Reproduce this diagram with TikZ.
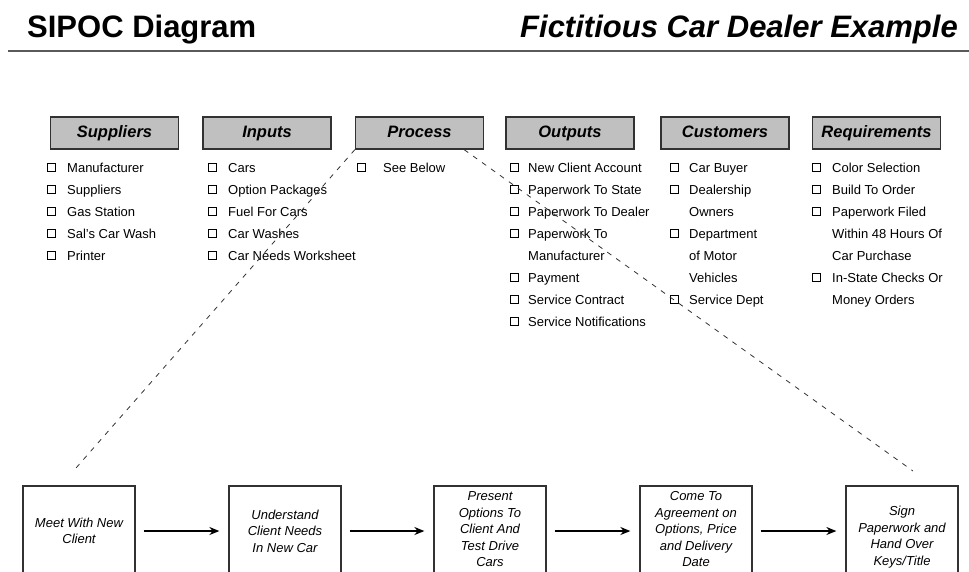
\documentclass[tikz,border=0pt]{standalone}
\usepackage{fontspec}
\setmainfont{Liberation Sans}
\usepackage{tikz}
\usetikzlibrary{
    arrows.meta,positioning
}

\begin{document}
\begin{tikzpicture}[
  x=1pt,
  y=-1pt,
  >={Stealth[length=10pt,width=8pt]},
  titletext/.style={inner sep=0pt, font=\fontsize{31}{34}\selectfont\bfseries},
  headbox/.style={draw=boxgray, line width=1.3pt, fill=headfill, minimum width=128pt,
    minimum height=32pt, inner sep=0pt, text height=12pt, text depth=3.5pt,
    font=\fontsize{16.5}{18}\selectfont\bfseries\itshape},
  item/.style={anchor=base west, inner sep=0pt, font=\fontsize{13}{15}\selectfont},
  tickbox/.style={draw=black, line width=0.9pt},
  stepbox/.style={draw=boxgray, line width=1.3pt, minimum width=112pt, minimum height=90pt,
    inner sep=2pt, align=center, font=\fontsize{13}{16.5}\selectfont\itshape},
  flow/.style={->, line width=1.3pt, shorten <=8pt, shorten >=9pt},
  guide/.style={draw=boxgray, line width=0.8pt, dash pattern=on 5pt off 6pt}
]
  \definecolor{headfill}{RGB}{192,192,192}
  \definecolor{boxgray}{RGB}{50,50,50}
  \definecolor{rulegray}{RGB}{90,90,90}

  \useasboundingbox (0,0) rectangle (969,571);

  % Title line
  \node[titletext, anchor=base west] (title) at (27,37) {SIPOC Diagram};
  \node[titletext, anchor=base east] (subtitle) at (958,37) {\itshape Fictitious Car Dealer Example};
  \draw[rulegray, line width=2.2pt] (8,51) -- (969,51);

  % SIPOC column heads
  \node[headbox] (sup)  at (114.5,133) {Suppliers};
  \node[headbox] (inp)  at (267,133)   {Inputs};
  \node[headbox] (proc) at (419.5,133) {Process};
  \node[headbox] (out)  at (570,133)   {Outputs};
  \node[headbox] (cus)  at (725,133)   {Customers};
  \node[headbox] (req)  at (876.5,133) {Requirements};

  % Column lists: text/1 gets a check box, text/0 is a continued line
  \foreach \t/\c [count=\n] in {Manufacturer/1, Suppliers/1, Gas Station/1,
      Sal's Car Wash/1, Printer/1}{
    \node[item] (sup-\n) at (67,{172+22*(\n-1)}) {\t};
    \ifnum\c=1 \draw[tickbox] (47,{163.5+22*(\n-1)}) rectangle ++(8,8); \fi
  }
  \foreach \t/\c [count=\n] in {Cars/1, Option Packages/1, Fuel For Cars/1,
      Car Washes/1, Car Needs Worksheet/1}{
    \node[item] (inp-\n) at (228,{172+22*(\n-1)}) {\t};
    \ifnum\c=1 \draw[tickbox] (208,{163.5+22*(\n-1)}) rectangle ++(8,8); \fi
  }
  \foreach \t/\c [count=\n] in {See Below/1}{
    \node[item] (proc-\n) at (383,{172+22*(\n-1)}) {\t};
    \ifnum\c=1 \draw[tickbox] (357,{163.5+22*(\n-1)}) rectangle ++(8,8); \fi
  }
  \foreach \t/\c [count=\n] in {New Client Account/1, Paperwork To State/1,
      Paperwork To Dealer/1, Paperwork To/1, Manufacturer/0, Payment/1,
      Service Contract/1, Service Notifications/1}{
    \node[item] (out-\n) at (528,{172+22*(\n-1)}) {\t};
    \ifnum\c=1 \draw[tickbox] (510,{163.5+22*(\n-1)}) rectangle ++(8,8); \fi
  }
  \foreach \t/\c [count=\n] in {Car Buyer/1, Dealership/1, Owners/0,
      Department/1, of Motor/0, Vehicles/0, Service Dept/1}{
    \node[item] (cus-\n) at (689,{172+22*(\n-1)}) {\t};
    \ifnum\c=1 \draw[tickbox] (670,{163.5+22*(\n-1)}) rectangle ++(8,8); \fi
  }
  \foreach \t/\c [count=\n] in {Color Selection/1, Build To Order/1,
      Paperwork Filed/1, Within 48 Hours Of/0, Car Purchase/0,
      In-State Checks Or/1, Money Orders/0}{
    \node[item] (req-\n) at (832,{172+22*(\n-1)}) {\t};
    \ifnum\c=1 \draw[tickbox] (812,{163.5+22*(\n-1)}) rectangle ++(8,8); \fi
  }

  % Process steps (all tops at the same height)
  \node[stepbox] (meet)    at (79,531)  {Meet With New\\Client};
  \node[stepbox] (needs)   at (285,531) {Understand\\Client Needs\\In New Car};
  \node[stepbox, minimum height=87pt] (present) at (490,529.5) {Present\\Options To\\Client And\\Test Drive\\Cars};
  \node[stepbox, minimum height=87pt] (agree)   at (696,529.5) {Come To\\Agreement on\\Options, Price\\and Delivery\\Date};
  \node[stepbox, minimum height=102pt] (sign) at (902,537) {Sign\\Paperwork and\\Hand Over\\Keys/Title};

  \draw[flow] (meet) -- (needs);
  \draw[flow] (needs.east |- meet) -- (present.west |- meet);
  \draw[flow] (present.east |- meet) -- (agree.west |- meet);
  \draw[flow] (agree.east |- meet) -- (sign.west |- meet);

  % Process head opened up into the steps
  \coordinate (lend) at (76,468);
  \coordinate (rend) at (913,471);
  \draw[guide] (proc.south west) -- (lend);
  \draw[guide] ([xshift=-20pt]proc.south east) -- (rend);
\end{tikzpicture}
\end{document}
